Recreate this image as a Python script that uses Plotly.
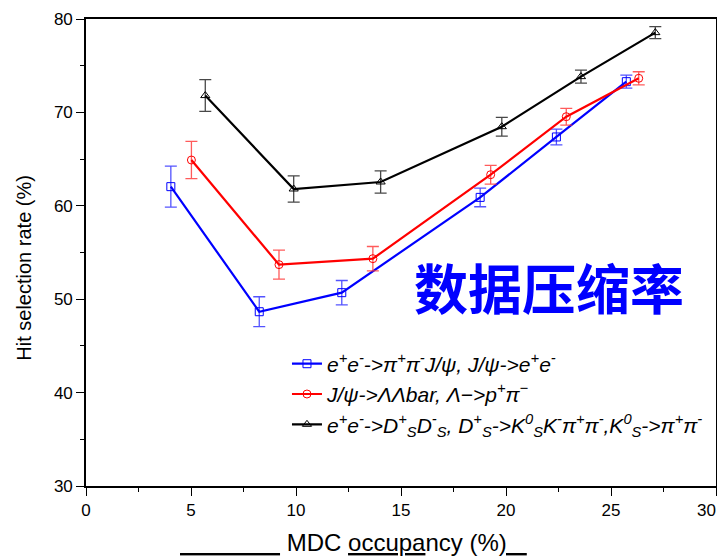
import plotly.graph_objects as go

# Data
blue_x = [4.04, 8.25, 12.18, 18.77, 22.4, 25.73]
blue_y = [62.05, 48.66, 50.7, 60.9, 67.37, 73.29]
blue_err = [2.2, 1.6, 1.3, 1.0, 0.85, 0.7]

red_x = [5.02, 9.19, 13.66, 19.27, 22.87, 26.32]
red_y = [64.9, 53.7, 54.34, 63.33, 69.54, 73.65]
red_err = [2.0, 1.55, 1.3, 1.0, 0.9, 0.7]

black_x = [5.68, 9.89, 14.03, 19.8, 23.57, 27.11]
black_y = [71.8, 61.8, 62.55, 68.47, 73.83, 78.54]
black_err = [1.7, 1.4, 1.2, 1.0, 0.7, 0.65]

x_tickvals = [0, 5, 10, 15, 20, 25, 30]
# last label padded so it is not clipped at the right page edge
x_ticktext = ["0", "5", "10", "15", "20", "25", "30\u00a0\u00a0\u00a0\u00a0"]

names = [
    "<i>e<sup>+</sup>e<sup>-</sup>->π<sup>+</sup>π<sup>-</sup>J/ψ, J/ψ->e<sup>+</sup>e<sup>-</sup></i>",
    "<i>J/ψ->ΛΛbar, Λ−>p<sup>+</sup>π<sup>−</sup></i>",
    "<i>e<sup>+</sup>e<sup>-</sup>->D<sup>+</sup><sub>S</sub>D<sup>-</sup><sub>S</sub>, "
    "D<sup>+</sup><sub>S</sub>->K<sup>0</sup><sub>S</sub>K<sup>-</sup>π<sup>+</sup>π<sup>-</sup>,"
    "K<sup>0</sup><sub>S</sub>->π<sup>+</sup>π<sup>-</sup></i>",
]

series = [
    (blue_x, blue_y, blue_err, "#0000ff", "rgba(40,40,255,0.8)", "square-open", names[0]),
    (red_x, red_y, red_err, "#ff0000", "rgba(255,50,50,0.8)", "circle-open", names[1]),
    (black_x, black_y, black_err, "#000000", "rgba(40,40,40,0.85)", "triangle-up-open", names[2]),
]

fig = go.Figure()
for xs, ys, es, col, ecol, sym, nm in series:
    fig.add_trace(go.Scatter(
        x=xs, y=ys, mode="lines+markers", name=nm,
        line=dict(color=col, width=2.2),
        marker=dict(symbol=sym, size=8, color=col, line=dict(width=1, color=col)),
        error_y=dict(type="data", array=es, visible=True, color=ecol, thickness=1.3, width=6),
    ))

# the page body adds an 8px offset, so the figure is 8px smaller and margins shifted
fig.update_layout(
    width=717, height=552,
    margin=dict(l=78, r=9, t=11, b=74, autoexpand=False),
    paper_bgcolor="white", plot_bgcolor="white",
    font=dict(family="Arial, Liberation Sans, sans-serif", color="black", size=16),
    showlegend=True,
    legend=dict(
        x=0.319, y=0.305, xanchor="left", yanchor="top",
        bgcolor="rgba(0,0,0,0)", borderwidth=0,
        font=dict(size=21, family="Arial, Liberation Sans, sans-serif", color="black"),
        tracegroupgap=0, itemwidth=30,
    ),
    xaxis=dict(
        range=[0, 30], tickmode="array", tickvals=x_tickvals, ticktext=x_ticktext,
        automargin=False, ticklabeloverflow="allow",
        showgrid=False, zeroline=False,
        showline=True, linecolor="black", linewidth=1.6, mirror=True,
        ticks="outside", ticklen=8, tickwidth=1.3, tickcolor="black",
        minor=dict(dtick=2.5, ticks="outside", ticklen=4, tickwidth=1.2, tickcolor="black"),
        tickfont=dict(size=17),
    ),
    yaxis=dict(
        range=[30, 80], tickmode="linear", tick0=30, dtick=10, automargin=False,
        ticklabeloverflow="allow",
        showgrid=False, zeroline=False,
        showline=True, linecolor="black", linewidth=1.6, mirror=True,
        ticks="outside", ticklen=8, tickwidth=1.3, tickcolor="black",
        minor=dict(dtick=5, ticks="outside", ticklen=4, tickwidth=1.2, tickcolor="black"),
        tickfont=dict(size=17),
    ),
    annotations=[
        dict(
            text="数据压缩率", xref="paper", yref="paper", x=0.735, y=0.428,
            xanchor="center", yanchor="middle", showarrow=False,
            font=dict(family="Noto Sans CJK SC", size=54, color="#0000ff", weight="bold"),
        ),
        dict(
            text="Hit selection rate (%)", xref="paper", yref="paper", x=-0.098, y=0.468,
            xanchor="center", yanchor="middle", textangle=-90, showarrow=False,
            font=dict(family="Arial, Liberation Sans, sans-serif", size=20, color="black"),
        ),
        dict(
            text="<u>" + "\u00a0" * 15 + "</u> MDC <u>occupa</u>ncy (%<u>)\u00a0\u00a0\u00a0</u>",
            xref="paper", yref="paper", x=0.4246, y=-0.155,
            xanchor="center", yanchor="bottom", showarrow=False,
            font=dict(family="Arial, Liberation Sans, sans-serif", size=24, color="black"),
        ),
    ],
)

fig.write_html("out.html")
